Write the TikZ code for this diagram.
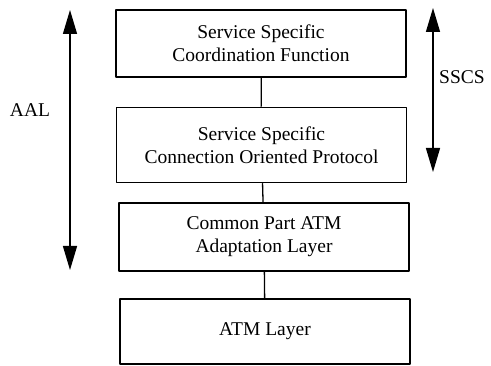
\documentclass[tikz,border=0pt]{standalone}
\usepackage{fontspec}
\setmainfont{Liberation Serif}
\usetikzlibrary{arrows.meta}
\begin{document}
\begin{tikzpicture}[x=1pt,y=-1pt,font=\fontsize{19.5}{23}\selectfont,line join=round,
	layer/.style={draw,line width=1.5pt,align=center,minimum width=290pt,inner sep=0pt},
	span/.style={line width=1.3pt,{Triangle[length=24pt,width=14pt]}-{Triangle[length=24pt,width=14pt]}}]
	\useasboundingbox (0,0) rectangle (491,366);
	\node[layer,minimum height=67pt] (sscf) at (261,43.5) {Service Specific\\Coordination Function};
	\node[layer,minimum height=75pt] (sscop) at (261.5,145) {Service Specific\\Connection Oriented Protocol};
	\node[layer,minimum height=68pt] (cpaal) at (264,237) {Common Part ATM\\Adaptation Layer};
	\node[layer,minimum height=65pt] (atm) at (265,331.5) {ATM Layer};
	\draw[line width=1.3pt] (sscf)--(sscop) (sscop)--(cpaal) (cpaal)--(atm);
	% layer spans
	\coordinate (aaltop) at (70,10);
	\coordinate (aalbot) at (70,270);
	\coordinate (sscstop) at (433,8);
	\coordinate (sscsbot) at (433,172);
	\draw[span] (aaltop)--(aalbot);
	\draw[span] (sscstop)--(sscsbot);
	\node (aal) at (30,110) {AAL};
	\node (sscs) at (462,77) {SSCS};
\end{tikzpicture}
\end{document}
